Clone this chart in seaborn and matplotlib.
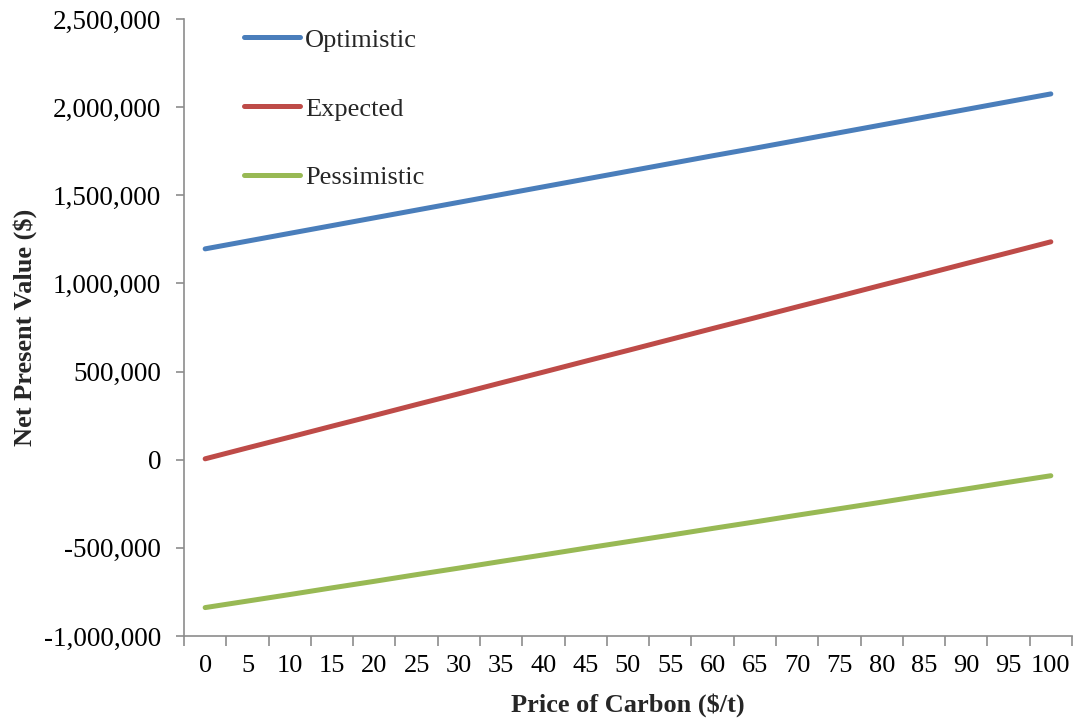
import matplotlib
matplotlib.use("Agg")
import matplotlib.pyplot as plt
import matplotlib.ticker as mticker
import numpy as np
import pandas as pd
import seaborn as sns

# Carbon price categories ($/t)
carbon_price = ["0", "5", "10", "15", "20", "25", "30", "35", "40", "45", "50",
                "55", "60", "65", "70", "75", "80", "85", "90", "95", "100"]

# Net present value ($) under each scenario
optimistic = [1196000, 1240000, 1284000, 1328000, 1372000, 1416000, 1460000,
              1504000, 1548000, 1592000, 1636000, 1680000, 1724000, 1767000,
              1811000, 1855000, 1899000, 1943000, 1987000, 2031000, 2075000]
expected = [5000, 67000, 128000, 190000, 251000, 313000, 374000, 436000,
            497000, 559000, 620000, 682000, 744000, 805000, 867000, 928000,
            990000, 1051000, 1113000, 1174000, 1236000]
pessimistic = [-839000, -802000, -765000, -727000, -690000, -652000, -615000,
               -577000, -540000, -502000, -465000, -428000, -390000, -353000,
               -315000, -278000, -241000, -203000, -166000, -128000, -91000]

scenarios = ["Optimistic", "Expected", "Pessimistic"]
colors = ["#4A7EBB", "#BE4B48", "#98B954"]

df = pd.DataFrame({
    "price": carbon_price * 3,
    "npv": optimistic + expected + pessimistic,
    "scenario": np.repeat(scenarios, len(carbon_price)),
})

sns.set_style("white")
plt.rcParams["font.family"] = ["Liberation Serif", "DejaVu Serif"]

fig = plt.figure(figsize=(10.78, 7.25), dpi=100)
ax = fig.add_axes([0.1707, 0.1228, 0.8237, 0.851])

sns.lineplot(data=df, x="price", y="npv", hue="scenario", hue_order=scenarios,
             palette=colors, linewidth=3.6, sort=False, ax=ax,
             solid_capstyle="round")

n = len(carbon_price)
ax.set_xlim(-0.5, n - 0.5)
ax.set_ylim(-1000000, 2500000)

# Category axis: tick marks between categories, labels at centres
ax.set_xticks(np.arange(-0.5, n, 1.0))
ax.set_xticklabels([])
ax.set_xticks(np.arange(n), minor=True)
ax.set_xticklabels(carbon_price, minor=True)
ax.tick_params(axis="x", which="major", bottom=True, length=7, width=1.2,
               color="#8C8C8C", direction="out")
ax.tick_params(axis="x", which="minor", bottom=True, length=0, labelsize=19,
               pad=14, labelcolor="black")

ax.yaxis.set_major_locator(mticker.MultipleLocator(500000))
ax.yaxis.set_major_formatter(mticker.FuncFormatter(lambda v, p: f"{int(v):,}"))
ax.tick_params(axis="y", left=True, length=6, width=1.2, color="#8C8C8C",
               direction="out", labelsize=19.5, pad=10.5, labelcolor="black")

for side in ["top", "right"]:
    ax.spines[side].set_visible(False)
for side in ["left", "bottom"]:
    ax.spines[side].set_color("#8C8C8C")
    ax.spines[side].set_linewidth(1.2)

ax.set_xlabel("Price of Carbon ($/t)", fontsize=19, fontweight="bold", labelpad=11)
ax.set_ylabel("Net Present Value ($)", fontsize=19, fontweight="bold", labelpad=5)

leg = ax.legend(loc="upper left", bbox_to_anchor=(0.068, 0.985), frameon=False,
                fontsize=19, handlelength=2.1, handletextpad=0.2,
                labelspacing=1.72, borderpad=0, borderaxespad=0)
for line in leg.get_lines():
    line.set_linewidth(3.6)
    line.set_solid_capstyle("round")

fig.savefig("out.png", dpi=100)
